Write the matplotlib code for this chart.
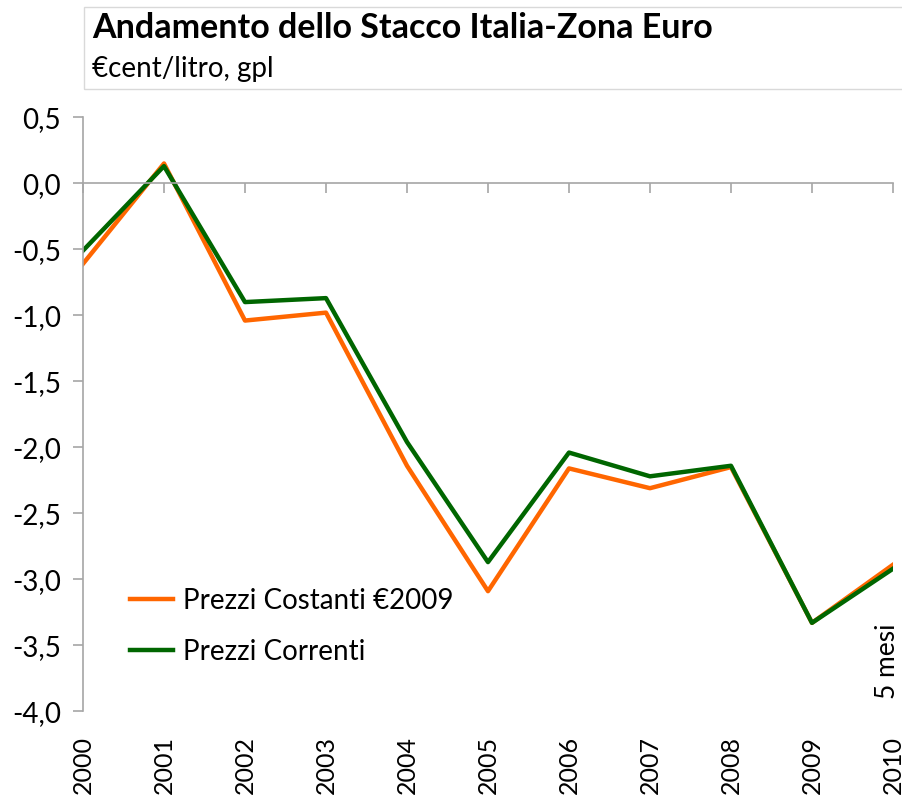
import matplotlib
matplotlib.use('Agg')
import matplotlib.pyplot as plt
from matplotlib.patches import Rectangle

plt.rcParams['font.family'] = ['Lato', 'DejaVu Sans']

# dati (€cent/litro, gpl)
anni = [2000, 2001, 2002, 2003, 2004, 2005, 2006, 2007, 2008, 2009, 2010]
etichette_anni = ['2000', '2001', '2002', '2003', '2004', '2005',
                  '2006', '2007', '2008', '2009', '2010']
prezzi_costanti = [-0.61, 0.15, -1.04, -0.98, -2.14, -3.09, -2.16, -2.31, -2.15, -3.33, -2.89]
prezzi_correnti = [-0.51, 0.13, -0.90, -0.87, -1.96, -2.87, -2.04, -2.22, -2.14, -3.33, -2.92]
y_ticks = [0.5, 0.0, -0.5, -1.0, -1.5, -2.0, -2.5, -3.0, -3.5, -4.0]
y_labels = ['0,5', '0,0', '-0,5', '-1,0', '-1,5', '-2,0', '-2,5', '-3,0', '-3,5', '-4,0']

ARANCIO = '#FF6600'
VERDE = '#006600'
GRIGIO = '#A6A6A6'

fig = plt.figure(figsize=(9.03, 8), dpi=100)
ax = fig.add_axes([0.0919, 0.1109, 0.8970, 0.7425])

ax.plot(anni, prezzi_costanti, color=ARANCIO, lw=3.2, label='Prezzi Costanti €2009')
ax.plot(anni, prezzi_correnti, color=VERDE, lw=3.2, label='Prezzi Correnti')

ax.set_xlim(2000, 2010)
ax.set_ylim(-4.0, 0.5)
ax.set_yticks(y_ticks)
ax.set_yticklabels(y_labels, fontsize=20)
ax.set_xticks(anni)
ax.set_xticklabels([])

for s in ['top', 'right']:
    ax.spines[s].set_visible(False)
ax.spines['bottom'].set_position(('data', 0))
ax.spines['bottom'].set_color(GRIGIO)
ax.spines['left'].set_color(GRIGIO)
ax.spines['bottom'].set_linewidth(1.2)
ax.spines['left'].set_linewidth(1.2)
ax.tick_params(axis='y', direction='out', length=7, width=1.2, color=GRIGIO, pad=9)
ax.tick_params(axis='x', direction='out', length=7, width=1.2, color=GRIGIO)

# etichette anni in basso, ruotate
for a, lab in zip(anni, etichette_anni):
    ax.text(a, -4.19, lab, rotation=90, ha='center', va='top', fontsize=18)

ax.text(2009.93, -3.91, '5 mesi', rotation=90, ha='center', va='bottom', fontsize=19)

ax.legend(loc='upper left', bbox_to_anchor=(0.027, 0.25), frameon=False,
          fontsize=20, handlelength=1.55, handletextpad=0.38, labelspacing=0.9)

# riquadro del titolo
fig.patches.append(Rectangle((84 / 903, 1 - 89 / 800), 1.0, 82 / 800,
                             transform=fig.transFigure, fill=False,
                             edgecolor='#D9D9D9', lw=1))
fig.text(92 / 903, 1 - 38 / 800, 'Andamento dello Stacco Italia-Zona Euro',
         fontsize=24.5, fontweight='bold', va='baseline')
fig.text(92 / 903, 1 - 77 / 800, '€cent/litro, gpl', fontsize=20, va='baseline')

fig.savefig('out.png', dpi=100)
